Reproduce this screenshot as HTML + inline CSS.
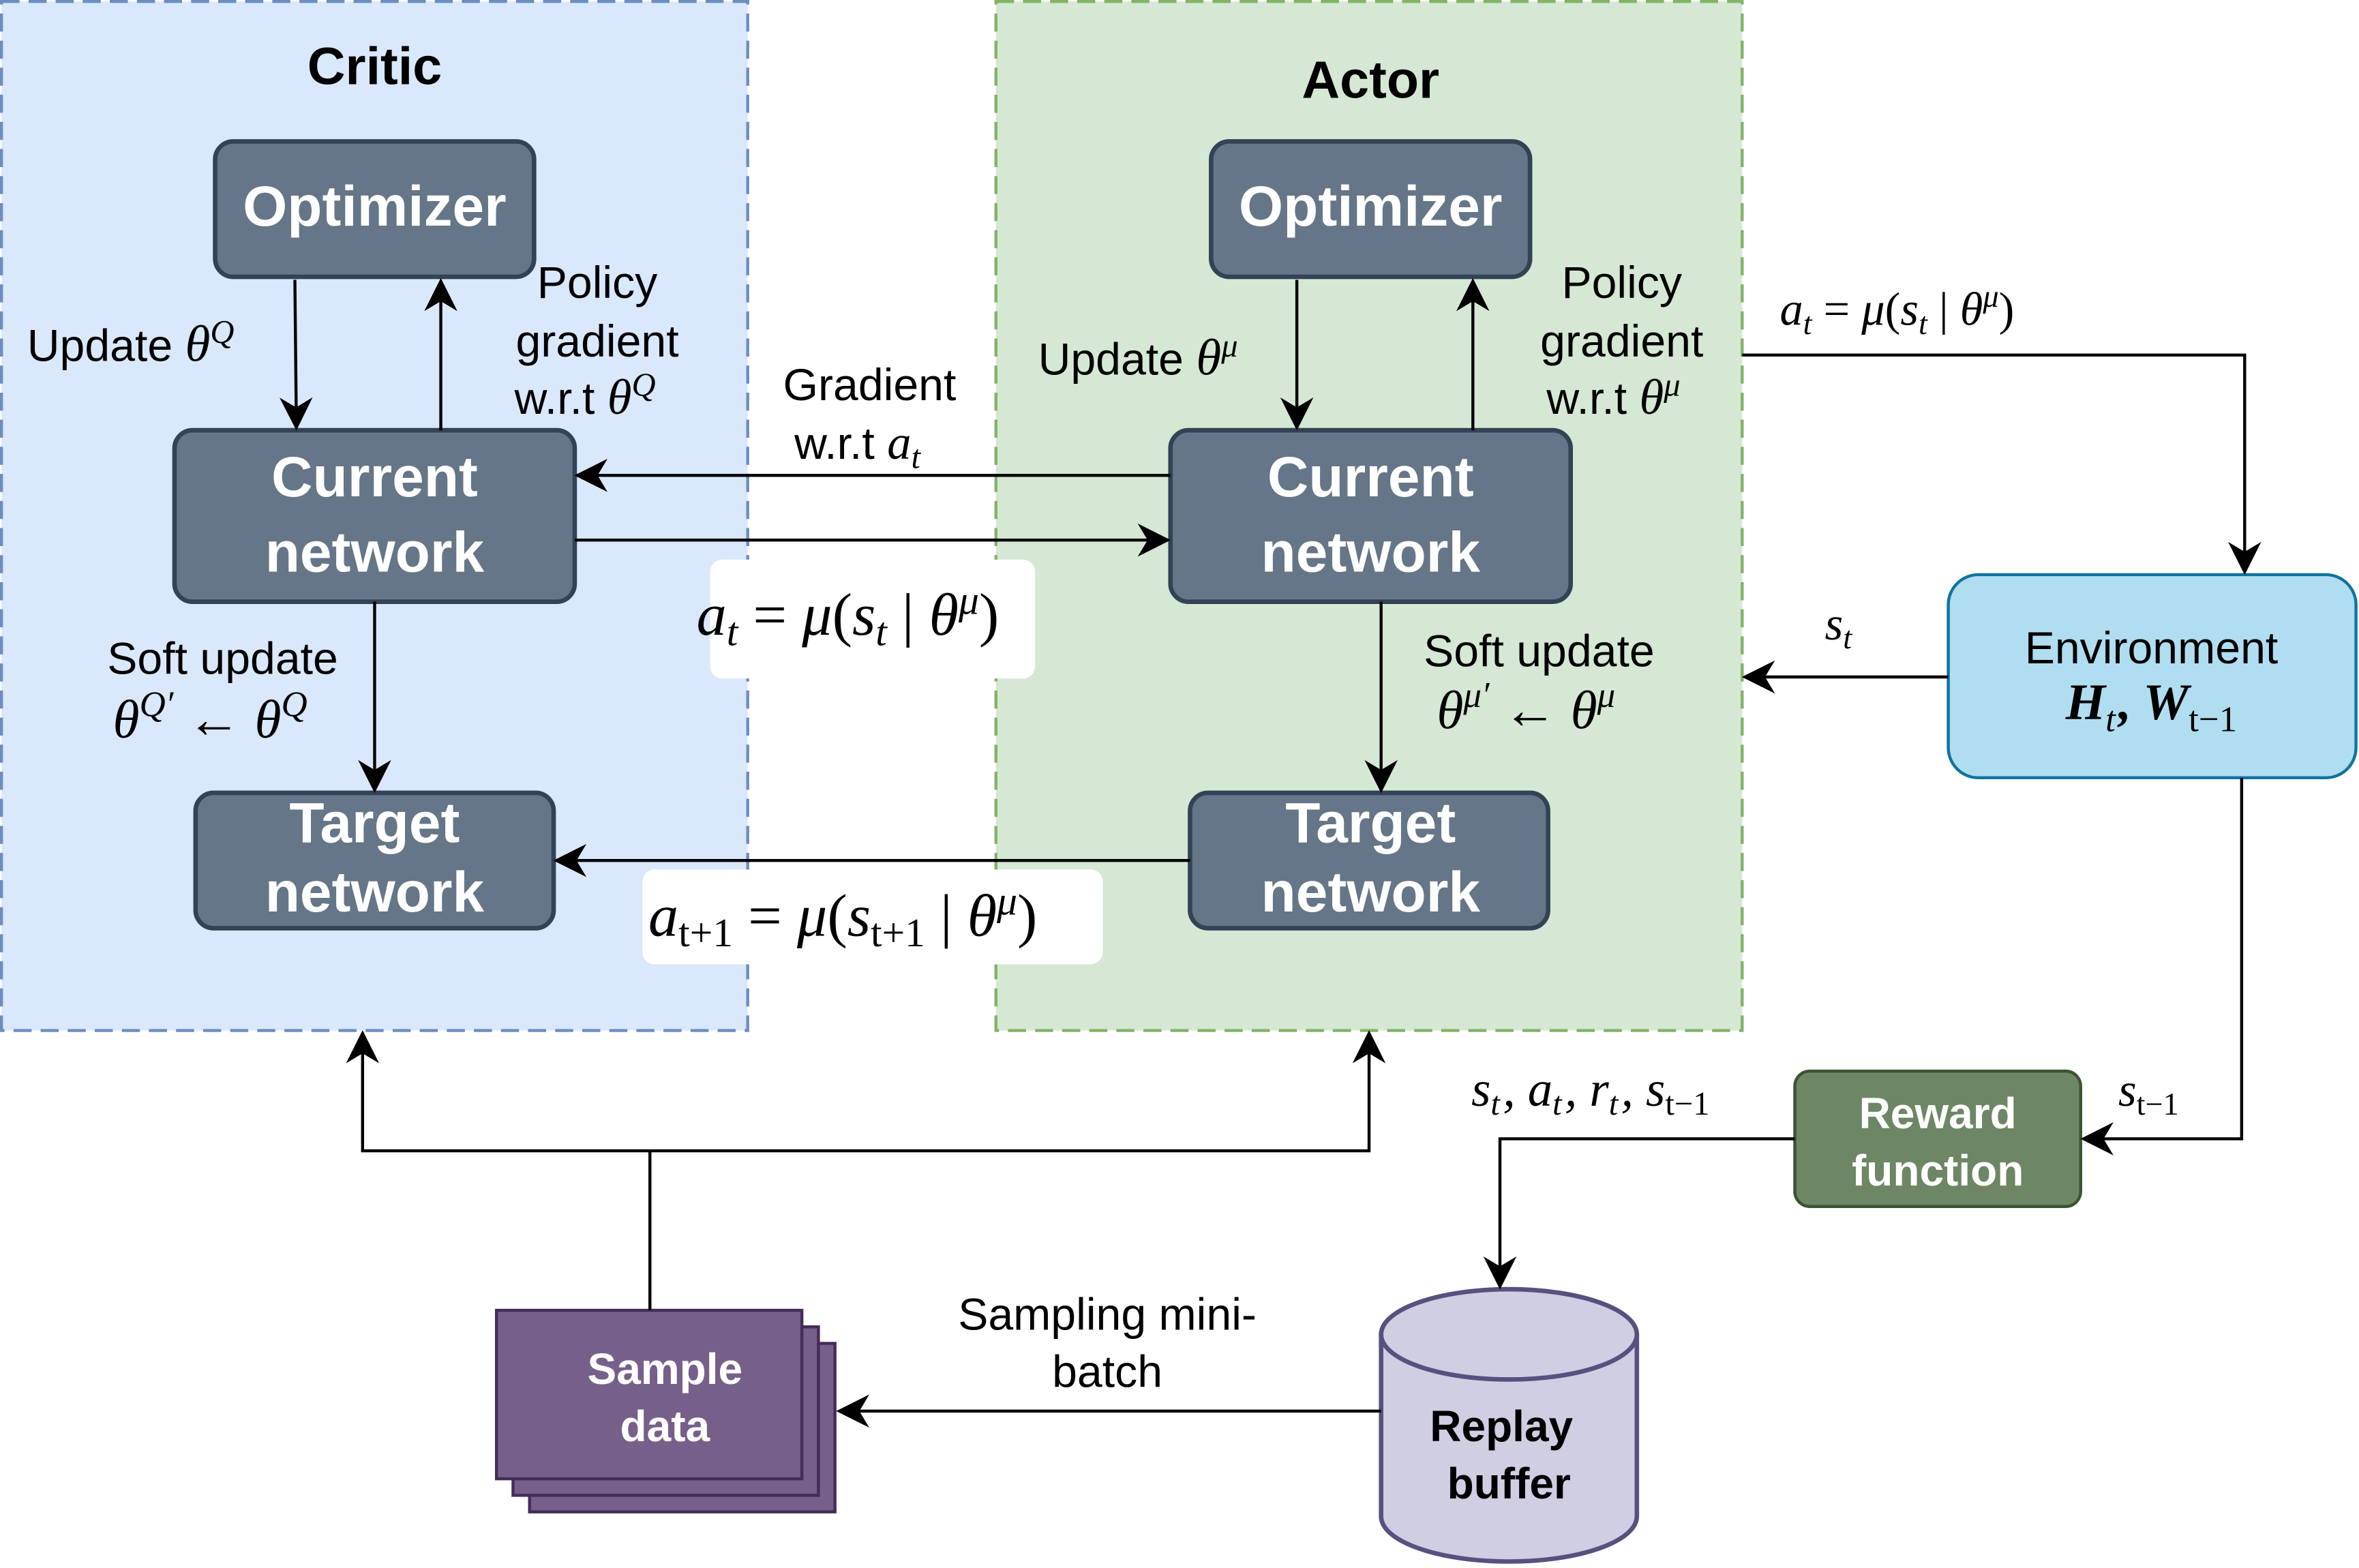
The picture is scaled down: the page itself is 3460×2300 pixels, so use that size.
<!DOCTYPE html>
<html><head><meta charset="utf-8"><style>html,body{margin:0;padding:0;background:#fff}svg{display:block}</style></head>
<body>
<svg xmlns="http://www.w3.org/2000/svg" width="3460" height="2300" viewBox="0 0 1568 1042.3">
<defs>
<marker id="b" viewBox="0 0 10 10" refX="9" refY="5" markerWidth="22" markerHeight="22" orient="auto" markerUnits="userSpaceOnUse">
<path d="M0,0 L10,5 L0,10 L3,5 Z" fill="#000"/></marker>
</defs>
<style>
text{font-family:"Liberation Sans",sans-serif}
.n{fill:#fff;font-weight:bold;font-size:38px;text-anchor:middle}
.s{fill:#fff;font-weight:bold;font-size:29px;text-anchor:middle}
.l{font-size:30px;fill:#000}
.m{font-family:"Liberation Serif",serif;font-style:italic}
.ln{stroke:#000;stroke-width:2;fill:none;marker-end:url(#b)}
</style>
<rect x="1" y="1" width="496" height="684" fill="#dae8fc" stroke="#6c8ebf" stroke-width="2" stroke-dasharray="12,6"/>
<rect x="662" y="1" width="496" height="684" fill="#d5e8d4" stroke="#82b366" stroke-width="2" stroke-dasharray="12,6"/>
<text x="249" y="56" font-size="35" font-weight="bold" text-anchor="middle">Critic</text>
<text x="911" y="65" font-size="35" font-weight="bold" text-anchor="middle">Actor</text>

<g fill="#647687" stroke="#314354" stroke-width="3">
<rect x="143" y="94" width="212" height="90" rx="12"/>
<rect x="116" y="286" width="266" height="114" rx="12"/>
<rect x="130" y="527" width="238" height="90" rx="12"/>
<rect x="805" y="94" width="212" height="90" rx="12"/>
<rect x="778" y="286" width="266" height="114" rx="12"/>
<rect x="791" y="527" width="238" height="90" rx="12"/>
</g>
<text class="n" x="249" y="150">Optimizer</text>
<text class="n" x="249" y="330">Current</text><text class="n" x="249" y="380">network</text>
<text class="n" x="249" y="560">Target</text><text class="n" x="249" y="606">network</text>
<text class="n" x="911" y="150">Optimizer</text>
<text class="n" x="911" y="330">Current</text><text class="n" x="911" y="380">network</text>
<text class="n" x="911" y="560">Target</text><text class="n" x="911" y="606">network</text>

<rect x="1295" y="382" width="271" height="135" rx="20" fill="#b1ddf0" stroke="#10739e" stroke-width="2"/>
<text class="l" x="1430" y="441" text-anchor="middle">Environment</text>
<text x="1430" y="478" text-anchor="middle" font-size="34" font-weight="bold" class="m">H<tspan font-size="24" dy="8" font-weight="normal">t</tspan><tspan dy="-8" dx="2">, W</tspan><tspan font-size="24" dy="8" font-weight="normal" font-style="normal">t−1</tspan></text>

<rect x="1193" y="712" width="190" height="90" rx="10" fill="#6d8764" stroke="#3a5431" stroke-width="2"/>
<text x="1288" y="750" class="s">Reward</text>
<text x="1288" y="788" class="s">function</text>

<g fill="#d0cee2" stroke="#56517e" stroke-width="3">
<path d="M918,887 L918,1008 A85,30 0 0 0 1088,1008 L1088,887"/>
<ellipse cx="1003" cy="887" rx="85" ry="30"/>
</g>
<text x="998" y="958" font-size="29" font-weight="bold" text-anchor="middle">Replay</text>
<text x="1003" y="996" font-size="29" font-weight="bold" text-anchor="middle">buffer</text>

<g fill="#76608a" stroke="#432d57" stroke-width="2">
<rect x="352" y="893" width="203" height="112"/>
<rect x="341" y="882" width="203" height="112"/>
<rect x="330" y="871" width="203" height="112"/>
</g>
<text x="442" y="920" class="s">Sample</text>
<text x="442" y="958" class="s">data</text>

<path class="ln" d="M196,186 L197,284"/>
<path class="ln" d="M293,286 L293,187"/>
<path class="ln" d="M249,400 L249,525"/>
<path class="ln" d="M862,186 L862,284"/>
<path class="ln" d="M979,286 L979,187"/>
<path class="ln" d="M918,400 L918,525"/>
<path class="ln" d="M778,316 L384,316"/>
<path class="ln" d="M382,359 L776,359"/>
<path class="ln" d="M791,572 L370,572"/>
<path class="ln" d="M1158,236 L1492,236 L1492,380"/>
<path class="ln" d="M1295,450 L1160,450"/>
<path class="ln" d="M1490,517 L1490,757 L1385,757"/>
<path class="ln" d="M1193,757 L997,757 L997,855"/>
<path class="ln" d="M918,938 L558,938"/>
<path d="M432,871 L432,765" stroke="#000" stroke-width="2" fill="none"/>
<path class="ln" d="M432,765 L241,765 L241,687"/>
<path class="ln" d="M432,765 L910,765 L910,687"/>

<text class="l" x="18" y="240">Update <tspan class="m" font-size="34">θ</tspan><tspan class="m" font-size="22" dy="-12">Q</tspan></text>
<text class="l" x="397" y="198" text-anchor="middle">Policy</text>
<text class="l" x="397" y="237" text-anchor="middle">gradient</text>
<text class="l" x="342" y="275">w.r.t <tspan class="m" font-size="33">θ</tspan><tspan class="m" font-size="22" dy="-12">Q</tspan></text>
<text class="l" x="148" y="448" text-anchor="middle">Soft update</text>
<text x="75" y="490" class="m" font-size="36">θ<tspan font-size="24" dy="-14">Q′</tspan><tspan dy="14" font-style="normal"> ← </tspan>θ<tspan font-size="24" dy="-14">Q</tspan></text>
<text class="l" x="578" y="266" text-anchor="middle">Gradient</text>
<text class="l" x="528" y="305">w.r.t <tspan class="m" font-size="32">a</tspan><tspan class="m" font-size="22" dy="6">t</tspan></text>
<text class="l" x="690" y="249">Update <tspan class="m" font-size="34">θ</tspan><tspan class="m" font-size="22" dy="-12">μ</tspan></text>
<text class="l" x="1078" y="198" text-anchor="middle">Policy</text>
<text class="l" x="1078" y="237" text-anchor="middle">gradient</text>
<text class="l" x="1028" y="275">w.r.t <tspan class="m" font-size="33">θ</tspan><tspan class="m" font-size="22" dy="-12">μ</tspan></text>
<text class="l" x="1023" y="443" text-anchor="middle">Soft update</text>
<text x="955" y="484" class="m" font-size="36">θ<tspan font-size="24" dy="-14">μ′</tspan><tspan dy="14" font-style="normal"> ← </tspan>θ<tspan font-size="24" dy="-14">μ</tspan></text>
<text x="1183" y="216" class="m" font-size="31">a<tspan font-size="21" dy="6">t</tspan><tspan dy="-6" font-style="normal"> = </tspan>μ<tspan font-style="normal">(</tspan>s<tspan font-size="21" dy="6">t</tspan><tspan dy="-6" font-style="normal"> | </tspan>θ<tspan font-size="21" dy="-12">μ</tspan><tspan dy="12" font-style="normal">)</tspan></text>
<text x="1213" y="425" class="m" font-size="31">s<tspan font-size="21" dy="6">t</tspan></text>
<text x="1408" y="735" class="m" font-size="31">s<tspan font-size="21" dy="6" font-style="normal">t−1</tspan></text>
<text x="978" y="735" class="m" font-size="33">s<tspan font-size="22" dy="6">t</tspan><tspan dy="-6" dx="2">, a</tspan><tspan font-size="22" dy="6">t</tspan><tspan dy="-6" dx="2">, r</tspan><tspan font-size="22" dy="6">t</tspan><tspan dy="-6" dx="2">, s</tspan><tspan font-size="22" dy="6" font-style="normal">t−1</tspan></text>
<text class="l" x="736" y="884" text-anchor="middle">Sampling mini-</text>
<text class="l" x="736" y="922" text-anchor="middle">batch</text>

<rect x="472" y="372" width="216" height="79" rx="8" fill="#fff"/>
<text x="463" y="422" class="m" font-size="40">a<tspan font-size="27" dy="7">t</tspan><tspan dy="-7" font-style="normal"> = </tspan>μ<tspan font-style="normal">(</tspan>s<tspan font-size="27" dy="7">t</tspan><tspan dy="-7" font-style="normal"> | </tspan>θ<tspan font-size="27" dy="-14">μ</tspan><tspan dy="14" font-style="normal">)</tspan></text>
<rect x="427" y="578" width="306" height="63" rx="8" fill="#fff"/>
<text x="431" y="622" class="m" font-size="40">a<tspan font-size="27" dy="7" font-style="normal">t+1</tspan><tspan dy="-7" font-style="normal"> = </tspan>μ<tspan font-style="normal">(</tspan>s<tspan font-size="27" dy="7" font-style="normal">t+1</tspan><tspan dy="-7" font-style="normal"> | </tspan>θ<tspan font-size="27" dy="-14">μ</tspan><tspan dy="14" font-style="normal">)</tspan></text>
</svg>
</body></html>
